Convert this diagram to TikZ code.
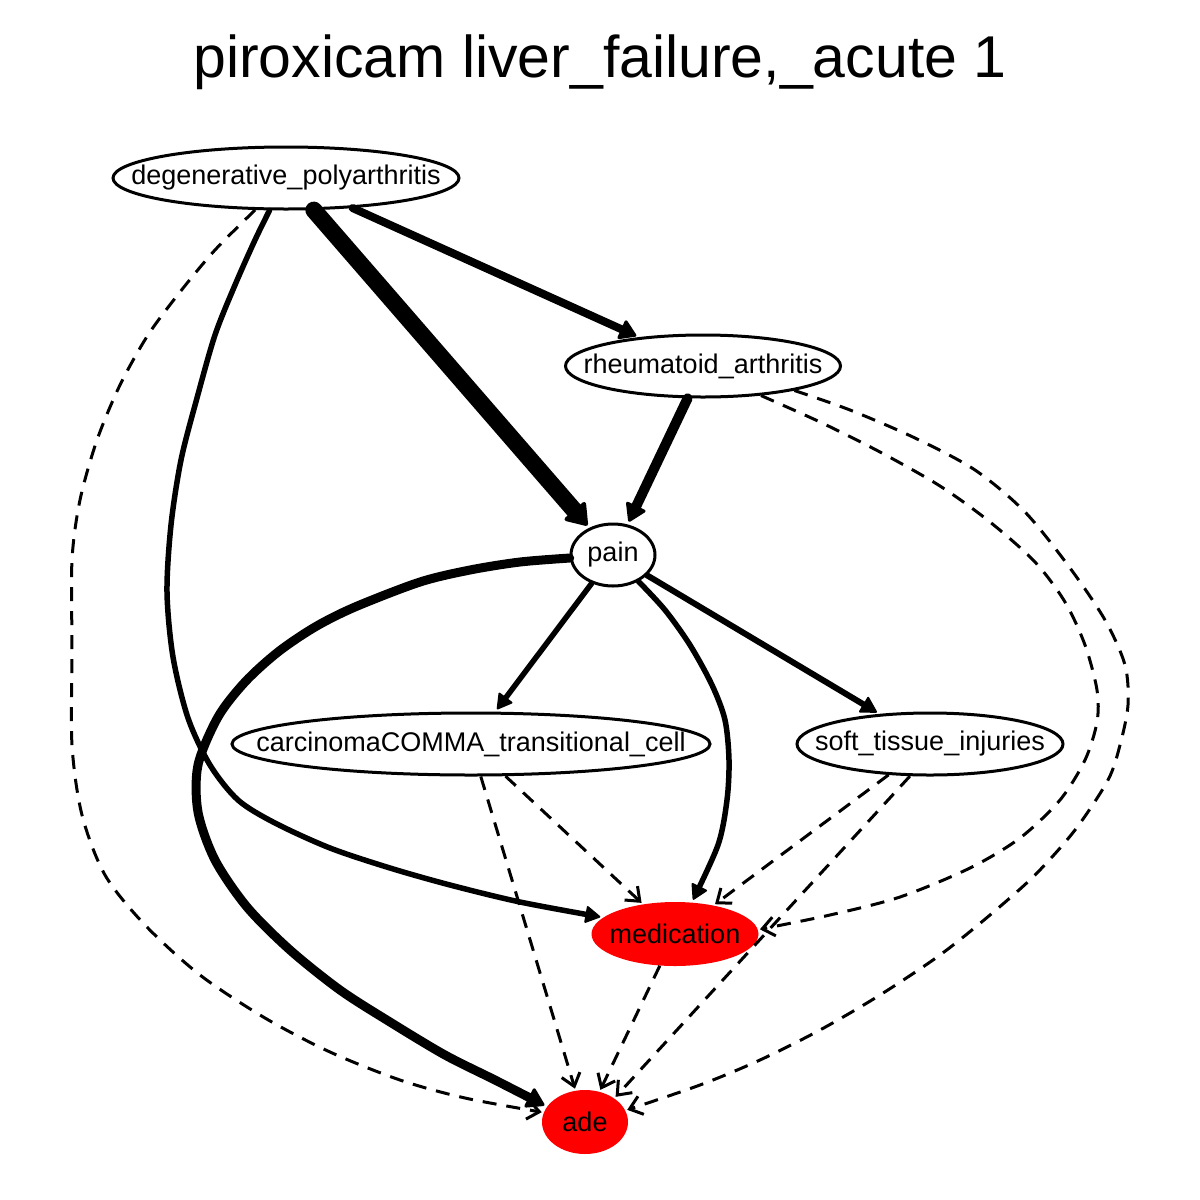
\documentclass[tikz,border=0pt]{standalone}
\usepackage{fontspec}
\setmainfont{Liberation Sans}
\usetikzlibrary{shapes.geometric,arrows.meta}
\newcommand{\zbox}[1]{\makebox[0pt]{#1}}
\begin{document}
\begin{tikzpicture}[x=1pt,y=-1pt,
  nd/.style={ellipse, draw, line width=3pt, inner sep=0pt, fill=white,
    font=\fontsize{27}{32}\selectfont},
  rednd/.style={ellipse, fill=red, inner sep=0pt,
    font=\fontsize{27}{32}\selectfont},
  sol/.style={line width=5.5pt, line cap=round, line join=round, shorten >=3pt,
    -{Triangle[length=16pt,width=18pt,line width=2pt,round]}},
  dsh/.style={line width=3pt, dash pattern=on 14pt off 10pt, shorten >=2pt,
    -{Straight Barb[length=12pt,width=19pt]}},
]
\useasboundingbox (0,0) rectangle (1200,1200);
\node (title) at (600,62) {\fontsize{59}{66}\selectfont piroxicam liver\_failure,\_acute 1};

\node[nd, minimum width=346pt, minimum height=62pt] (deg) at (286,178) {\zbox{degenerative\_polyarthritis}};
\node[nd, minimum width=275pt, minimum height=62pt] (rheum) at (703,366) {\zbox{rheumatoid\_arthritis}};
\node[nd, minimum width=84pt, minimum height=62pt] (pain) at (613,555) {\zbox{pain}};
\node[nd, minimum width=478pt, minimum height=62pt] (carc) at (471,744) {\zbox{carcinomaCOMMA\_transitional\_cell}};
\node[nd, minimum width=266pt, minimum height=62pt] (soft) at (930,744) {\zbox{soft\_tissue\_injuries}};
\node[rednd, minimum width=167pt, minimum height=64pt] (med) at (675,934) {\zbox{medication}};
\node[rednd, minimum width=86pt, minimum height=64pt] (ade) at (585,1122) {\zbox{ade}};

% straight solid edges
\draw[sol, line width=8pt, -{Triangle[length=18pt,width=22pt,line width=3pt,round]}] (deg) -- (rheum);
\draw[sol, line width=17pt, -{Triangle[length=22pt,width=30pt,line width=4pt,round]}] (deg) -- (pain);
\draw[sol, line width=10pt, -{Triangle[length=19pt,width=23pt,line width=3pt,round]}] (rheum) -- (pain);
\draw[sol] (pain) -- (carc);
\draw[sol, line width=6pt, -{Triangle[length=17pt,width=19pt,line width=2pt,round]}] (pain) -- (soft);

% curved solid edges
\draw[sol] plot[smooth, tension=0.5] coordinates {(deg.243) (255,240) (235,285) (215,335) (197,398) (181,460) (171,525) (167,592) (173,657) (188,718) (210,765) (238,800) (275,823) (330,848) (390,868) (450,885) (520,902) (med.167)};
\draw[sol, line width=9pt, -{Triangle[length=19pt,width=23pt,line width=3pt,round]}] plot[smooth, tension=0.5] coordinates {(pain.184) (520,562) (470,570) (420,582) (355,607) (315,627) (278,652) (245,682) (218,717) (198,765) (198,812) (215,860) (247,907) (290,950) (340,990) (390,1022) (445,1055) (495,1080) (ade.158)};
\draw[sol] plot[smooth, tension=0.5] coordinates {(pain.314) (665,610) (690,645) (712,685) (725,720) (729,760) (727,800) (718,845) (med.62)};

% dashed edges
\draw[dsh] plot[smooth, tension=0.5] coordinates {(deg.226) (215,250) (180,292) (148,335) (120,385) (97,440) (80,500) (72,560) (72,650) (72,745) (82,815) (105,875) (145,925) (200,975) (265,1018) (330,1052) (400,1080) (465,1098) (ade.167)};
\draw[dsh] plot[smooth, tension=0.5] coordinates {(rheum.333) (820,422) (880,452) (940,486) (990,522) (1035,562) (1065,602) (1085,645) (1097,690) (1097,722) (1085,760) (1060,800) (1020,838) (970,868) (900,897) (830,915) (med.3)};
\draw[dsh] plot[smooth, tension=0.5] coordinates {(rheum.345) (850,410) (915,438) (975,470) (1025,512) (1070,568) (1105,620) (1125,665) (1128,705) (1120,745) (1108,780) (1075,830) (1035,875) (990,915) (940,955) (880,995) (820,1030) (760,1060) (700,1085) (ade.16)};
\draw[dsh] (carc) -- (med);
\draw[dsh] (carc) -- (ade);
\draw[dsh] (soft) -- (med);
\draw[dsh] (soft.238) -- (ade.39);
\draw[dsh] (med) -- (ade);
\end{tikzpicture}
\end{document}
